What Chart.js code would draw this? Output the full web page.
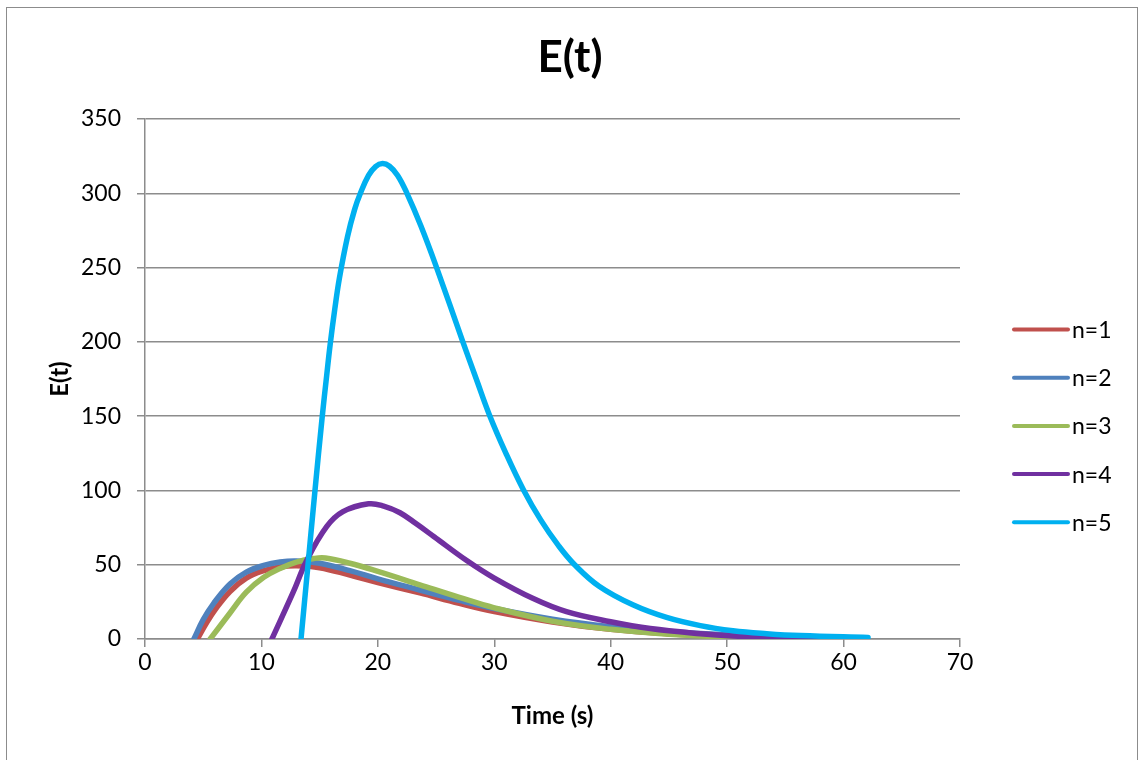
<!DOCTYPE html>
<html>
<head>
<meta charset="utf-8">
<script src="https://cdn.jsdelivr.net/npm/chart.js@4.4.1/dist/chart.umd.min.js"></script>
<style>
  body { margin: 0; background: #fff; overflow: hidden; }
  #frame { position: absolute; left: 6px; top: 7px; width: 1130px; height: 800px; border: 1.5px solid #8c8c8c; }
  #chart { position: absolute; left: 0; top: 0; }
</style>
</head>
<body>
<div id="frame"></div>
<canvas id="chart" width="1140" height="760"></canvas>
<script>
// Series data (time in s, E(t))
var seriesLabels = ['n=1', 'n=2', 'n=3', 'n=4', 'n=5'];
var seriesColors = ['#C0504D', '#4F81BD', '#9BBB59', '#7030A0', '#00B0F0'];

var timeN1 = [4.5, 5.3, 6, 7.3, 8.7, 10.2, 11.6, 13, 15, 17.6, 20, 23.6, 27, 30, 35, 40, 45, 50, 55, 62];
var eN1 = [0, 11, 19.5, 32, 41, 46, 48.5, 49.3, 48, 43, 38, 31, 24, 18.5, 11.5, 6.5, 3.5, 1.7, 0.7, 0.1];

var timeN2 = [4.2, 5, 5.9, 7.3, 8.7, 10.2, 11.6, 13, 15, 17.6, 20, 23.6, 27, 30, 35, 40, 45, 50, 55, 62];
var eN2 = [0, 13, 24, 37, 45, 49.5, 51.8, 52.5, 51, 46, 40.5, 33, 26, 20.5, 13.3, 8.3, 5, 2.8, 1.4, 0.4];

var timeN3 = [5.6, 7.3, 8.7, 10.2, 11.6, 13, 14.5, 15.5, 17.6, 20, 23.6, 27, 30, 35, 40, 45, 50, 55, 62];
var eN3 = [0, 17.5, 31.5, 41.5, 47.5, 51.8, 54.2, 54.5, 51, 45.5, 36.5, 28, 21, 12, 6.5, 3.2, 1.4, 0.5, 0.1];

var timeN4 = [10.9, 12.7, 13.9, 15.6, 17, 19.2, 20.5, 21.9, 23.3, 24.8, 27.6, 30, 33.3, 36.2, 40, 43.4, 47.7, 50.5, 55, 62];
var eN4 = [0, 31, 53, 75.6, 85.7, 91, 89.5, 85, 77.5, 69, 53, 41, 27.4, 18.4, 11.6, 7, 3.5, 2, 1, 0.4];

var timeN5 = [13.4, 14.0, 14.6, 15.2, 15.6, 15.9, 16.3, 16.7, 17.4, 18.0, 18.5, 19.2, 19.8, 20.4, 21.0, 21.7, 22.5, 23.7, 25, 27.3, 28.5, 29.6, 31, 32.5, 34, 35.5, 36.9, 39, 41.9, 44.8, 47.7, 50.5, 53.4, 56.3, 62.1];
var eN5 = [0, 50, 100, 148, 177, 198, 222, 243, 271, 289, 300, 312, 318, 320, 318.2, 312, 300, 278, 251, 200, 174, 150.5, 125, 100.5, 80, 63, 50, 35.5, 23, 14.5, 9, 5.6, 3.6, 2.3, 1];

var xTicks = [0, 10, 20, 30, 40, 50, 60, 70];
var yTicks = [0, 50, 100, 150, 200, 250, 300, 350];

var allTimes = [timeN1, timeN2, timeN3, timeN4, timeN5];
var allValues = [eN1, eN2, eN3, eN4, eN5];

function toPoints(ts, vs) {
    var pts = [];
    for (var i = 0; i < ts.length; i++) {
        pts.push({ x: ts[i], y: vs[i] });
    }
    return pts;
}

var datasets = seriesLabels.map(function(label, i) {
    return {
        label: label,
        data: toPoints(allTimes[i], allValues[i]),
        borderColor: seriesColors[i],
        backgroundColor: seriesColors[i],
        borderWidth: 5.5,
        pointRadius: 0,
        tension: 0.4,
        borderCapStyle: 'round',
        borderJoinStyle: 'round',
        order: seriesLabels.length - i
    };
});

var gridGray = '#8c8c8c';
var fontFamily = 'Lato, "Open Sans", sans-serif';

// Excel-style legend on the right
var sideLegend = {
    id: 'sideLegend',
    afterDraw: function(chart) {
        var ctx = chart.ctx;
        ctx.save();
        ctx.font = '23px ' + fontFamily;
        ctx.textBaseline = 'middle';
        ctx.textAlign = 'left';
        chart.data.datasets.forEach(function(ds, i) {
            var y = 329.5 + i * 48.2;
            ctx.strokeStyle = ds.borderColor;
            ctx.lineWidth = 4;
            ctx.lineCap = 'round';
            ctx.beginPath();
            ctx.moveTo(1014, y);
            ctx.lineTo(1068, y);
            ctx.stroke();
            ctx.fillStyle = '#000';
            ctx.fillText(ds.label, 1072, y + 1);
        });
        ctx.restore();
    }
};

new Chart(document.getElementById('chart').getContext('2d'), {
    type: 'line',
    data: { datasets: datasets },
    plugins: [sideLegend],
    options: {
        responsive: false,
        animation: false,
        layout: { padding: 0 },
        plugins: {
            legend: { display: false },
            tooltip: { enabled: false },
            title: {
                display: true,
                text: 'E(t)',
                color: '#000',
                font: { family: fontFamily, size: 44, weight: 'bold', lineHeight: 1.2 },
                padding: { top: 31.6, bottom: 34.6 }
            }
        },
        scales: {
            x: {
                type: 'linear',
                min: 0,
                max: 70,
                afterFit: function(scale) { scale.height = 121; },
                afterBuildTicks: function(scale) {
                    scale.ticks = xTicks.map(function(v) { return { value: v }; });
                },
                grid: { drawOnChartArea: false, drawTicks: true, tickLength: 8, color: gridGray, lineWidth: 1.5 },
                border: { color: gridGray, width: 1.5 },
                ticks: { color: '#000', font: { family: fontFamily, size: 23 }, padding: 2, maxRotation: 0 },
                title: {
                    display: true,
                    text: 'Time (s)',
                    color: '#000',
                    font: { family: fontFamily, size: 24, weight: 'bold', lineHeight: 1.2 },
                    padding: { top: 0, bottom: 29.6 }
                }
            },
            y: {
                min: 0,
                max: 350,
                afterFit: function(scale) { scale.width = 145; },
                afterBuildTicks: function(scale) {
                    scale.ticks = yTicks.map(function(v) { return { value: v }; });
                },
                grid: { drawTicks: true, tickLength: 8, color: gridGray, lineWidth: 1.5 },
                border: { color: gridGray, width: 1.5 },
                ticks: { color: '#000', font: { family: fontFamily, size: 23 }, padding: 16 },
                title: {
                    display: true,
                    text: 'E(t)',
                    color: '#000',
                    font: { family: fontFamily, size: 24, weight: 'bold', lineHeight: 1.2 },
                    padding: { top: 45.6, bottom: 0 }
                }
            },
            // empty box that reserves room for the legend on the right
            legendSpace: {
                position: 'right',
                display: true,
                afterFit: function(scale) { scale.width = 180; },
                ticks: { display: false },
                grid: { display: false, drawTicks: false },
                border: { display: false }
            }
        }
    }
});
</script>
</body>
</html>
